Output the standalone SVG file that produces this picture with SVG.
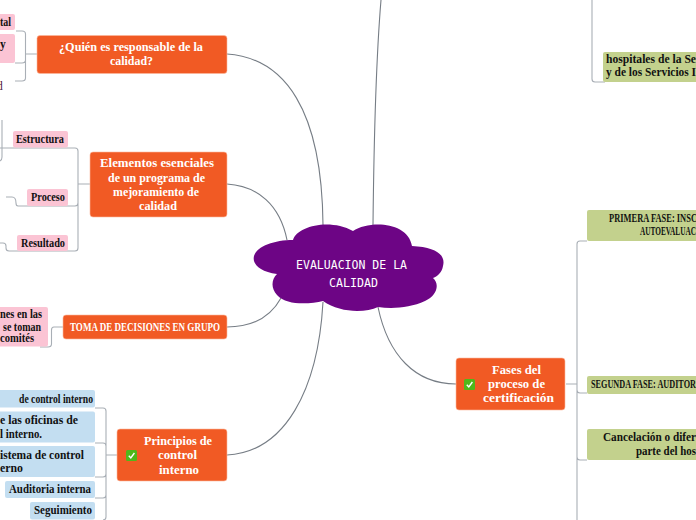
<svg xmlns="http://www.w3.org/2000/svg" width="696" height="520" viewBox="0 0 696 520">
<style>
.c{fill:none;stroke:#767d85;stroke-width:1.1}
.b{fill:none;stroke:#a9afb6;stroke-width:1.1}
.o{fill:#f15a24;stroke:#fbb89e;stroke-width:.6}
.p{fill:#fbc4d4}.l{fill:#c3def1}.g{fill:#c3d18d}
text{font-family:"Liberation Serif",serif;font-size:11.5px;fill:#111;font-weight:bold;lengthAdjust:spacingAndGlyphs}
.w{fill:#fff;font-size:12.5px}
.t{font-family:"DejaVu Sans Mono",monospace;font-size:12px;fill:#fff;font-weight:normal}
</style>
<defs>
<g id="chk"><rect width="11" height="11" x="0" y="0" rx="1.5" fill="#4fb81a"/><path d="M2.800 5.800l2 2.200 3.600-5" fill="none" stroke="#fff" stroke-width="1.400"/></g>
</defs>
<g id="connectors">
<path class="c" d="M227 54C285 58 322 110 323 225"/>
<path class="c" d="M227 184C258 186 280 205 287 240"/>
<path class="c" d="M227 327C252 327 270 318 281 298"/>
<path class="c" d="M227 455C285 452 318 390 323 302"/>
<path class="c" d="M456 384C415 384 388 355 378 307"/>
<path class="c" d="M373 225C374 130 376 60 381 0"/>
<path class="b" d="M25 54H37M16 31H22Q25.500 31 25.500 34V78Q25.500 81 22 81H15M25.500 60Q25.500 63 22 63H15"/>
<path class="b" d="M78 184H90M0 148H75Q78 148 78 151V248Q78 251 75 251H17M78 203Q78 206 75 206H18Q16 206 16 203Q16 197 12 197H6M2 120V157Q2 160 0 161M0 243H3Q6 243 6 246V248Q6 251 9 251H17"/>
<path class="b" d="M63 327H54Q51.500 327 51.500 330V344Q51.500 347 48 347H40"/>
<path class="b" d="M106 455H117M95 408H103Q106 408 106 411V517Q106 520 103 520M95 443H103Q106 443 106 446V474Q106 477 103 477H95M106 495Q106 498 103 498H95"/>
<path class="b" d="M566 384H577M587 241H580Q577 241 577 244V520M577 390Q577 393 580 393H587M577 457Q577 460 580 460H587"/>
<path class="b" d="M592 0V79Q592 82 595 82H605"/>
</g>
<g id="center">
<path fill="#6d0585" d="M293 240C297 226 330 218 353 231C370 220 408 222 412 246C436 247 446 255 443 266C442 272 438 276 433 278C440 284 437 296 425 301C410 308 392 309 378 307C365 313 340 313 323 301C310 304 287 306 277 295C271 288 271 280 277 274C260 272 252 264 254 256C257 246 275 240 293 240Z"/>
<text class="t" x="296" y="269" textLength="111" lengthAdjust="spacingAndGlyphs">EVALUACION DE LA</text>
<text class="t" x="329" y="287" textLength="49" lengthAdjust="spacingAndGlyphs">CALIDAD</text>
</g>
<g id="quien">
<rect class="o" x="37" y="35.500" width="190" height="38" rx="3"/>
<text class="w" x="59" y="51" textLength="144" lengthAdjust="spacingAndGlyphs">¿Quién es responsable de la</text>
<text class="w" x="110" y="65" textLength="43" lengthAdjust="spacingAndGlyphs">calidad?</text>
</g>
<g id="q1"><rect class="p" x="-4" y="14" width="19" height="16" rx="2"/><text x="0" y="26" textLength="11" lengthAdjust="spacingAndGlyphs">tal</text></g>
<g id="q2"><rect class="p" x="-4" y="34" width="19" height="29" rx="2"/><text x="0" y="48">y</text></g>
<g id="q3"><text x="-3" y="90" style="fill:#4a1030;font-weight:normal">d</text></g>
<g id="elementos">
<rect class="o" x="90" y="152" width="137" height="65" rx="3"/>
<text class="w" x="100" y="167" textLength="114" lengthAdjust="spacingAndGlyphs">Elementos esenciales</text>
<text class="w" x="108" y="182" textLength="97" lengthAdjust="spacingAndGlyphs">de un programa de</text>
<text class="w" x="113" y="196" textLength="86" lengthAdjust="spacingAndGlyphs">mejoramiento de</text>
<text class="w" x="139" y="210" textLength="38" lengthAdjust="spacingAndGlyphs">calidad</text>
</g>
<g id="estructura"><rect class="p" x="13" y="131" width="55" height="16.500" rx="2"/><text x="16" y="143" textLength="48" lengthAdjust="spacingAndGlyphs">Estructura</text></g>
<g id="proceso"><rect class="p" x="27" y="189" width="41" height="17" rx="2"/><text x="31" y="201" textLength="34" lengthAdjust="spacingAndGlyphs">Proceso</text></g>
<g id="resultado"><rect class="p" x="17" y="235" width="51" height="16" rx="2"/><text x="21" y="247" textLength="44" lengthAdjust="spacingAndGlyphs">Resultado</text></g>
<g id="toma">
<rect class="o" x="63" y="315" width="164" height="24" rx="3"/>
<text class="w" x="70" y="331" textLength="150" lengthAdjust="spacingAndGlyphs">TOMA DE DECISIONES EN GRUPO</text>
</g>
<g id="toma1"><rect class="p" x="-4" y="307" width="52" height="39.500" rx="2"/>
<text x="0" y="318" textLength="42" lengthAdjust="spacingAndGlyphs">nes en las</text><text x="3" y="331" textLength="38" lengthAdjust="spacingAndGlyphs">se toman</text><text x="0" y="342" textLength="34" lengthAdjust="spacingAndGlyphs">comités</text></g>
<g id="principios">
<rect class="o" x="117" y="429" width="110" height="52" rx="3"/>
<use href="#chk" x="126" y="450"/>
<text class="w" x="144" y="445" textLength="68" lengthAdjust="spacingAndGlyphs">Principios de</text>
<text class="w" x="158" y="459" textLength="39" lengthAdjust="spacingAndGlyphs">control</text>
<text class="w" x="159" y="474" textLength="40" lengthAdjust="spacingAndGlyphs">interno</text>
</g>
<g id="pr1"><rect class="l" x="-4" y="390" width="99" height="17.500" rx="2"/><text x="19" y="403" textLength="74" lengthAdjust="spacingAndGlyphs">de control interno</text></g>
<g id="pr2"><rect class="l" x="-4" y="411.500" width="99" height="31" rx="2"/><text x="0" y="424" textLength="78" lengthAdjust="spacingAndGlyphs">e las oficinas de</text><text x="0" y="438" textLength="42" lengthAdjust="spacingAndGlyphs">l interno.</text></g>
<g id="pr3"><rect class="l" x="-4" y="446" width="99" height="31" rx="2"/><text x="0" y="459" textLength="84" lengthAdjust="spacingAndGlyphs">istema de control</text><text x="0" y="472" textLength="23" lengthAdjust="spacingAndGlyphs">erno</text></g>
<g id="pr4"><rect class="l" x="5" y="481" width="90" height="17" rx="2"/><text x="9" y="493" textLength="82" lengthAdjust="spacingAndGlyphs">Auditoria interna</text></g>
<g id="pr5"><rect class="l" x="30" y="502" width="65" height="17.500" rx="2"/><text x="34" y="514" textLength="58" lengthAdjust="spacingAndGlyphs">Seguimiento</text></g>
<g id="fases">
<rect class="o" x="456" y="358" width="109" height="52" rx="3"/>
<use href="#chk" x="464" y="379"/>
<text class="w" x="492" y="374" textLength="49" lengthAdjust="spacingAndGlyphs">Fases del</text>
<text class="w" x="488" y="388" textLength="57" lengthAdjust="spacingAndGlyphs">proceso de</text>
<text class="w" x="483" y="402" textLength="71" lengthAdjust="spacingAndGlyphs">certificación</text>
</g>
<g id="primera"><rect class="g" x="587" y="210" width="113" height="31" rx="2"/><text x="609" y="222" textLength="88" lengthAdjust="spacingAndGlyphs">PRIMERA FASE: INSC</text><text x="640" y="235" textLength="56" lengthAdjust="spacingAndGlyphs">AUTOEVALUAC</text></g>
<g id="segunda"><rect class="g" x="587" y="376" width="113" height="18" rx="2"/><text x="591" y="388" textLength="105" lengthAdjust="spacingAndGlyphs">SEGUNDA FASE: AUDITOR</text></g>
<g id="cancelacion"><rect class="g" x="587" y="429" width="113" height="31" rx="2"/><text x="603" y="441" textLength="93" lengthAdjust="spacingAndGlyphs">Cancelación o difer</text><text x="636" y="455" textLength="60" lengthAdjust="spacingAndGlyphs">parte del hos</text></g>
<g id="hospitales"><rect class="g" x="603" y="52" width="97" height="30" rx="2"/><text x="606" y="63" textLength="90" lengthAdjust="spacingAndGlyphs">hospitales de la Se</text><text x="606" y="76" textLength="90" lengthAdjust="spacingAndGlyphs">y de los Servicios I</text></g>
</svg>
